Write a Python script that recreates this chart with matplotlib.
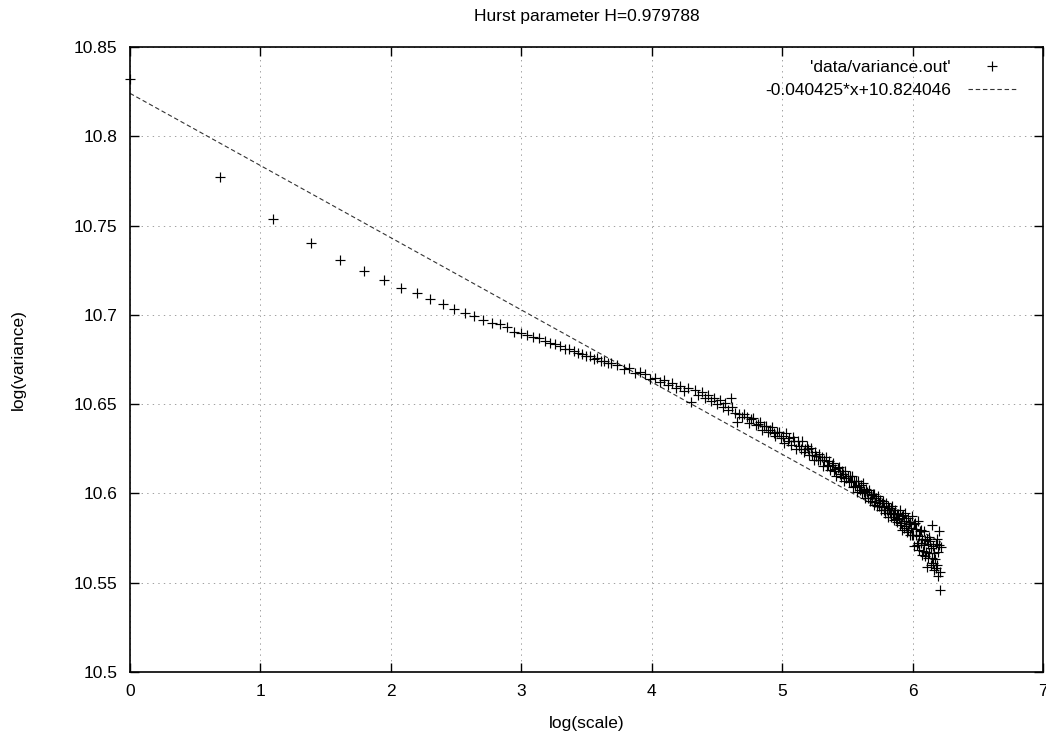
import numpy as np
import matplotlib
matplotlib.use('Agg')
import matplotlib.pyplot as plt
from matplotlib.ticker import FixedLocator, FuncFormatter

plt.rcParams['font.family'] = ['Liberation Sans', 'DejaVu Sans']
plt.rcParams['lines.scale_dashes'] = False

title = "Hurst parameter H=0.979788"
x_label = "log(scale)"
y_label = "log(variance)"
series_label = "'data/variance.out'"
fit_label = "-0.040425*x+10.824046"
fit_slope = -0.040425
fit_intercept = 10.824046

scales_a = list(range(1, 41))
var_a = [10.832, 10.777, 10.7535, 10.740, 10.731, 10.7244, 10.7195, 10.715, 10.712, 10.709,
         10.706, 10.7035, 10.701, 10.6994, 10.697, 10.6953, 10.695, 10.693, 10.6906, 10.690,
         10.6888, 10.6877, 10.6870, 10.6854, 10.6840, 10.6836, 10.6823, 10.6810, 10.6809, 10.6798,
         10.6786, 10.6783, 10.6772, 10.6768, 10.6752, 10.6756, 10.6740, 10.6743, 10.6730, 10.6731]

scales_b = list(range(42, 101, 2))
var_b = [10.6720, 10.6698, 10.6701, 10.6676, 10.6680, 10.6669, 10.6641, 10.6649, 10.6622, 10.6636,
         10.6608, 10.6620, 10.6590, 10.6604, 10.6576, 10.6593, 10.6513, 10.6578, 10.6550, 10.6566,
         10.6533, 10.6552, 10.6518, 10.6536, 10.6500, 10.6521, 10.6486, 10.6507, 10.6470, 10.6533]

scales_c = list(range(101, 502, 2))
var_c = [10.6483, 10.6450, 10.6400, 10.6445, 10.6429, 10.6447, 10.6426, 10.6392, 10.6417, 10.6421,
         10.6385, 10.6387, 10.6402, 10.6358, 10.6377, 10.6379, 10.6346, 10.6356, 10.6373, 10.6338,
         10.6322, 10.6344, 10.6343, 10.6310, 10.6321, 10.6281, 10.6336, 10.6296, 10.6309, 10.6273,
         10.6314, 10.6291, 10.6251, 10.6293, 10.6266, 10.6251, 10.6292, 10.6231, 10.6249, 10.6265,
         10.6250, 10.6213, 10.6256, 10.6213, 10.6187, 10.6231, 10.6211, 10.6185, 10.6223, 10.6186,
         10.6202, 10.6155, 10.6186, 10.6206, 10.6155, 10.6160, 10.6180, 10.6130, 10.6161, 10.6173,
         10.6123, 10.6136, 10.6099, 10.6141, 10.6147, 10.6107, 10.6092, 10.6127, 10.6108, 10.6072,
         10.6128, 10.6084, 10.6098, 10.6065, 10.6098, 10.6069, 10.6100, 10.6036, 10.6068, 10.6039,
         10.6071, 10.6010, 10.6070, 10.6037, 10.6021, 10.6045, 10.6000, 10.6056, 10.6007, 10.6015,
         10.5975, 10.6026, 10.6010, 10.5974, 10.6022, 10.5959, 10.5991, 10.5975, 10.5995, 10.5935,
         10.5995, 10.5952, 10.5976, 10.5932, 10.5988, 10.5948, 10.5928, 10.5964, 10.5905, 10.5945,
         10.5957, 10.5905, 10.5926, 10.5891, 10.5948, 10.5905, 10.5929, 10.5870, 10.5919, 10.5888,
         10.5921, 10.5870, 10.5927, 10.5883, 10.5892, 10.5849, 10.5906, 10.5859, 10.5884, 10.5841,
         10.5886, 10.5863, 10.5824, 10.5905, 10.5836, 10.5875, 10.5793, 10.5880, 10.5847, 10.5808,
         10.5889, 10.5820, 10.5846, 10.5783, 10.5864, 10.5795, 10.5828, 10.5765, 10.5839, 10.5806,
         10.5767, 10.5872, 10.5768, 10.5827, 10.5705, 10.5835, 10.5768, 10.5799, 10.5713, 10.5844,
         10.5722, 10.5762, 10.5686, 10.5789, 10.5721, 10.5798, 10.5658, 10.5743, 10.5676, 10.5788,
         10.5711, 10.5652, 10.5738, 10.5670, 10.5746, 10.5590, 10.5719, 10.5640, 10.5758, 10.5668,
         10.5731, 10.5597, 10.5693, 10.5636, 10.5823, 10.5609, 10.5705, 10.5571, 10.5667, 10.5632,
         10.5717, 10.5583, 10.5745, 10.5600, 10.5674, 10.5540, 10.5713, 10.5790, 10.5560, 10.5459,
         10.5700]

x_ticks = [0, 1, 2, 3, 4, 5, 6, 7]
y_ticks = [10.5, 10.55, 10.6, 10.65, 10.7, 10.75, 10.8, 10.85]

scales = np.array(scales_a + scales_b + scales_c, dtype=float)
variance = np.array(var_a + var_b + var_c)
log_scale = np.log(scales)

W, H = 1046, 739
fig = plt.figure(figsize=(W / 100, H / 100), dpi=100)
ax = fig.add_axes([130 / W, 1 - 672 / H, (1043 - 130) / W, (672 - 47) / H])

ax.plot(log_scale, variance, linestyle='none', marker='+', markersize=7.0,
        markeredgewidth=0.85, color='black', label=series_label, clip_on=False, zorder=3)

fit_x = np.array([log_scale.min(), log_scale.max()])
fit_y = fit_slope * fit_x + fit_intercept
ax.plot(fit_x, fit_y, color='#333333', linewidth=0.8, dashes=(3.2, 2.0),
        label=fit_label, zorder=2)

ax.set_xlim(0, 7)
ax.set_ylim(10.5, 10.85)
ax.xaxis.set_major_locator(FixedLocator(x_ticks))
ax.yaxis.set_major_locator(FixedLocator(y_ticks))
ax.yaxis.set_major_formatter(FuncFormatter(lambda v, p: '%g' % v))
ax.xaxis.set_major_formatter(FuncFormatter(lambda v, p: '%g' % v))

ax.grid(True, color='#a0a0a0', linestyle=(0, (1, 3)), linewidth=0.7)
ax.tick_params(direction='in', length=6.5, width=1.0, top=True, right=True,
               labelsize=12.5, pad=9, colors='black')
for s in ax.spines.values():
    s.set_linewidth(1.2)
    s.set_color('black')

ax.set_xlabel(x_label, fontsize=12.5, labelpad=12)
ax.set_ylabel(y_label, fontsize=12.5)
ax.yaxis.set_label_coords(-104 / 913, 0.5)
ax.set_title(title, fontsize=12.5, pad=19)

leg = ax.legend(loc='upper right', bbox_to_anchor=(0.975, 0.985), markerfirst=False,
                frameon=False, fontsize=12.5, handlelength=2.8, handletextpad=1.0,
                labelspacing=0.45, borderaxespad=0.0, borderpad=0.2)

fig.savefig('out.png', dpi=100)
